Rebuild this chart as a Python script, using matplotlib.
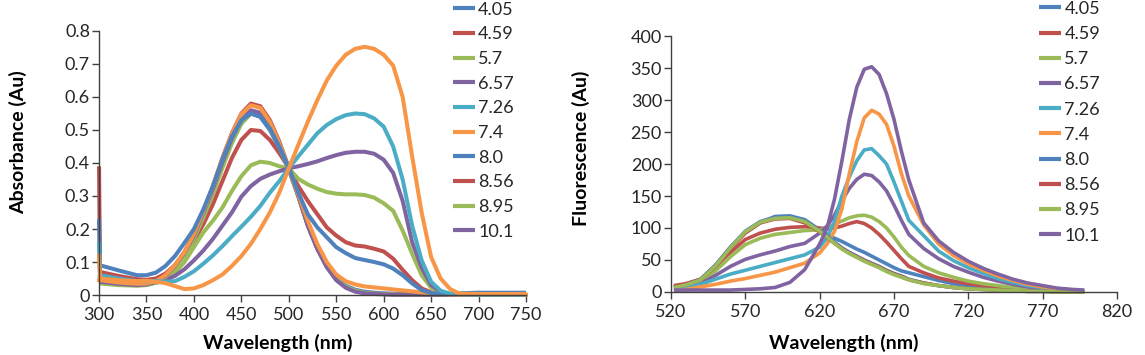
import matplotlib
matplotlib.use("Agg")
import matplotlib.pyplot as plt

plt.rcParams['font.family'] = ['Lato', 'DejaVu Sans']

# pH values used as legend labels
ph_labels = ['4.05', '4.59', '5.7', '6.57', '7.26', '7.4', '8.0', '8.56', '8.95', '10.1']
colors = ['#4F81BD', '#C0504D', '#9BBB59', '#8064A2', '#4BACC6', '#F79646',
          '#4F81BD', '#C0504D', '#9BBB59', '#8064A2']

# ---- absorbance ----
wl_abs = [300, 301, 320, 340, 350, 360, 370, 380, 390, 400, 410, 420, 430, 440, 450,
          460, 470, 480, 490, 500, 510, 520, 530, 540, 550, 560, 570, 580, 590, 600,
          610, 620, 630, 640, 650, 660, 670, 680, 700, 725, 750]

abs_405 = [0.23, 0.09, 0.075, 0.06, 0.06, 0.068, 0.088, 0.118, 0.158, 0.20, 0.26, 0.33, 0.41, 0.48, 0.53,
           0.55, 0.54, 0.505, 0.45, 0.385, 0.31, 0.245, 0.205, 0.175, 0.145, 0.127, 0.112, 0.106, 0.10, 0.093,
           0.08, 0.06, 0.035, 0.015, 0.006, 0.003, 0.003, 0.005, 0.007, 0.007, 0.007]
abs_459 = [0.39, 0.07, 0.058, 0.048, 0.046, 0.05, 0.065, 0.09, 0.125, 0.165, 0.215, 0.275, 0.345, 0.415, 0.47,
           0.50, 0.497, 0.47, 0.43, 0.385, 0.33, 0.285, 0.245, 0.205, 0.18, 0.16, 0.15, 0.147, 0.14, 0.132,
           0.11, 0.076, 0.045, 0.02, 0.008, 0.003, 0.002, 0.002, 0.002, 0.002, 0.002]
abs_57 = [0.06, 0.055, 0.045, 0.036, 0.036, 0.04, 0.05, 0.068, 0.1, 0.145, 0.19, 0.225, 0.265, 0.315, 0.36,
          0.393, 0.404, 0.40, 0.39, 0.384, 0.352, 0.335, 0.322, 0.312, 0.307, 0.305, 0.305, 0.303, 0.295, 0.278,
          0.255, 0.195, 0.125, 0.06, 0.022, 0.007, 0.003, 0.002, 0.001, 0.001, 0.001]
abs_657 = [0.05, 0.05, 0.04, 0.034, 0.034, 0.037, 0.045, 0.058, 0.078, 0.105, 0.135, 0.17, 0.21, 0.25, 0.298,
           0.33, 0.352, 0.365, 0.375, 0.384, 0.39, 0.397, 0.405, 0.415, 0.424, 0.431, 0.434, 0.434, 0.428, 0.41,
           0.37, 0.285, 0.16, 0.083, 0.03, 0.01, 0.003, 0.002, 0.001, 0.001, 0.001]
abs_726 = [0.16, 0.06, 0.05, 0.042, 0.042, 0.042, 0.04, 0.042, 0.055, 0.072, 0.095, 0.12, 0.148, 0.178, 0.207,
           0.237, 0.27, 0.31, 0.345, 0.384, 0.42, 0.455, 0.49, 0.515, 0.533, 0.545, 0.55, 0.548, 0.535, 0.51,
           0.45, 0.35, 0.21, 0.105, 0.04, 0.013, 0.004, 0.002, 0.001, 0.001, 0.001]
abs_74 = [0.125, 0.05, 0.045, 0.042, 0.043, 0.04, 0.036, 0.027, 0.018, 0.02, 0.03, 0.045, 0.062, 0.088, 0.118,
          0.155, 0.2, 0.25, 0.31, 0.384, 0.455, 0.525, 0.59, 0.65, 0.695, 0.728, 0.746, 0.752, 0.746, 0.728,
          0.695, 0.6, 0.42, 0.25, 0.115, 0.05, 0.018, 0.004, 0.003, 0.003, 0.003]
abs_80 = [0.045, 0.045, 0.038, 0.032, 0.033, 0.04, 0.058, 0.088, 0.128, 0.178, 0.245, 0.315, 0.395, 0.465, 0.52,
          0.55, 0.54, 0.5, 0.445, 0.38, 0.3, 0.215, 0.145, 0.09, 0.05, 0.028, 0.016, 0.01, 0.007, 0.005,
          0.004, 0.003, 0.002, 0.001, 0.001, 0.001, 0.001, 0.001, 0.001, 0.001, 0.001]
abs_856 = [0.04, 0.04, 0.033, 0.03, 0.032, 0.04, 0.06, 0.09, 0.13, 0.185, 0.255, 0.33, 0.415, 0.49, 0.55,
           0.58, 0.572, 0.53, 0.465, 0.385, 0.3, 0.21, 0.14, 0.085, 0.046, 0.024, 0.012, 0.006, 0.004, 0.003,
           0.002, 0.001, 0.001, 0.001, 0.001, 0.001, 0.001, 0.001, 0.001, 0.001, 0.001]
abs_895 = [0.035, 0.035, 0.03, 0.028, 0.03, 0.037, 0.055, 0.083, 0.12, 0.17, 0.235, 0.305, 0.385, 0.46, 0.52,
           0.55, 0.545, 0.505, 0.45, 0.38, 0.3, 0.215, 0.145, 0.088, 0.048, 0.025, 0.013, 0.007, 0.004, 0.003,
           0.002, 0.001, 0.001, 0.001, 0.001, 0.001, 0.001, 0.001, 0.001, 0.001, 0.001]
abs_101 = [0.04, 0.04, 0.034, 0.03, 0.032, 0.04, 0.058, 0.088, 0.128, 0.18, 0.25, 0.322, 0.402, 0.475, 0.53,
           0.56, 0.552, 0.512, 0.452, 0.384, 0.3, 0.21, 0.14, 0.085, 0.045, 0.022, 0.01, 0.005, 0.003, 0.002,
           0.001, 0.001, 0.001, 0.001, 0.001, 0.001, 0.001, 0.001, 0.001, 0.001, 0.001]
# extra orange trace visible in the chart but without a legend entry
abs_extra = [0.045, 0.045, 0.038, 0.034, 0.035, 0.042, 0.06, 0.09, 0.13, 0.185, 0.255, 0.33, 0.412, 0.488, 0.548,
             0.575, 0.567, 0.525, 0.46, 0.384, 0.305, 0.225, 0.155, 0.1, 0.062, 0.042, 0.032, 0.026, 0.023, 0.02,
             0.017, 0.014, 0.011, 0.008, 0.005, 0.003, 0.002, 0.001, 0.001, 0.001, 0.001]

abs_series = [abs_405, abs_459, abs_57, abs_657, abs_726, abs_74, abs_80, abs_856, abs_895, abs_101]
# drawing order tweak so the stacked start-up spikes at 300 nm show like the original
abs_z = [2.1, 2.0, 2.0, 2.0, 2.2, 2.3, 2.0, 2.0, 2.0, 2.0]

# ---- fluorescence ----
wl_fl = [522, 530, 540, 550, 560, 570, 580, 590, 600, 610, 620, 625, 630, 635, 640, 645, 650, 655,
         660, 665, 670, 675, 680, 690, 700, 710, 720, 730, 740, 750, 760, 770, 780, 790, 798]

fl_405 = [8, 12, 20, 42, 70, 93, 108, 118, 119, 113, 97, 90, 84, 79, 73, 67, 62, 56,
          50, 44, 38, 33, 30, 24, 18, 13, 10, 7, 5, 4, 3, 2, 1, 1, 0]
fl_459 = [10, 13, 20, 40, 62, 82, 92, 98, 101, 102, 100, 99, 100, 103, 107, 110, 107, 100,
          90, 78, 65, 52, 40, 30, 22, 17, 13, 10, 7, 5, 3, 2, 1, 1, 0]
fl_57 = [6, 9, 16, 33, 55, 74, 84, 90, 93, 96, 97, 100, 106, 111, 116, 119, 120, 117,
         110, 100, 86, 70, 57, 40, 30, 23, 17, 13, 10, 7, 5, 3, 2, 1, 1]
fl_657 = [4, 7, 13, 26, 40, 51, 58, 64, 71, 76, 92, 103, 120, 143, 162, 176, 184, 182,
          172, 158, 136, 112, 90, 68, 52, 40, 31, 23, 17, 12, 8, 5, 3, 2, 1]
fl_726 = [4, 6, 12, 20, 28, 34, 40, 46, 52, 58, 70, 85, 110, 150, 180, 205, 222, 224,
          213, 200, 172, 142, 112, 88, 64, 49, 38, 29, 21, 15, 10, 7, 4, 3, 2]
fl_74 = [2, 4, 8, 12, 17, 21, 26, 31, 38, 45, 61, 75, 95, 130, 185, 235, 272, 284,
         278, 262, 228, 185, 150, 105, 75, 57, 44, 34, 25, 18, 12, 8, 5, 3, 2]
fl_80 = [7, 11, 20, 42, 70, 95, 110, 117, 117, 110, 96, 88, 78, 69, 62, 56, 50, 45,
         40, 34, 29, 25, 20, 14, 10, 7, 5, 4, 3, 2, 1, 1, 0, 0, 0]
fl_856 = [8, 12, 19, 40, 68, 92, 108, 114, 115, 108, 94, 85, 76, 68, 61, 55, 49, 44,
          39, 33, 28, 24, 19, 14, 10, 7, 5, 4, 3, 2, 1, 1, 0, 0, 0]
fl_895 = [7, 11, 19, 41, 69, 94, 109, 115, 116, 110, 95, 86, 76, 67, 60, 54, 48, 43,
          38, 32, 27, 23, 19, 13, 10, 7, 5, 4, 3, 2, 1, 1, 0, 0, 0]
fl_101 = [3, 3, 3, 3, 3, 4, 5, 7, 15, 35, 75, 100, 145, 205, 270, 320, 348, 352,
          340, 310, 270, 220, 175, 108, 80, 62, 48, 37, 28, 20, 14, 10, 6, 4, 3]

fl_series = [fl_405, fl_459, fl_57, fl_657, fl_726, fl_74, fl_80, fl_856, fl_895, fl_101]

text_col = '#262626'
axis_col = '#404040'
fs = 13
fs_lab = 14

fig = plt.figure(figsize=(11.45, 3.55), dpi=100)
ax1 = fig.add_axes([0.0865, 0.169, 0.3729, 0.7437])
ax2 = fig.add_axes([0.586, 0.1775, 0.3895, 0.721])

for ys, c, lab, z in zip(abs_series, colors, ph_labels, abs_z):
    ax1.plot(wl_abs, ys, color=c, lw=2.9, label=lab, zorder=z, solid_capstyle='butt')
ax1.plot(wl_abs, abs_extra, color='#F79646', lw=2.9, label='_nolegend_')

for ys, c, lab in zip(fl_series, colors, ph_labels):
    ax2.plot(wl_fl, ys, color=c, lw=2.6, label=lab, solid_capstyle='butt')

ax1.set_xlim(300, 750)
ax1.set_ylim(0, 0.8)
ax1.set_xticks(range(300, 751, 50))
ax1.set_yticks([0, 0.1, 0.2, 0.3, 0.4, 0.5, 0.6, 0.7, 0.8])
ax1.set_yticklabels(['0', '0.1', '0.2', '0.3', '0.4', '0.5', '0.6', '0.7', '0.8'])

ax2.set_xlim(520, 820)
ax2.set_ylim(0, 400)
ax2.set_xticks(range(520, 821, 50))
ax2.set_yticks(range(0, 401, 50))

for ax in (ax1, ax2):
    for s in ('top', 'right'):
        ax.spines[s].set_visible(False)
    for s in ('left', 'bottom'):
        ax.spines[s].set_color(axis_col)
        ax.spines[s].set_linewidth(1.0)
    ax.tick_params(direction='out', length=5, width=1.0, color=axis_col,
                   labelsize=fs, labelcolor=text_col)
    ax.tick_params(axis='x', pad=3.5)
    ax.tick_params(axis='y', pad=1.5)
    for ln in ax.get_lines():
        ln.set_clip_on(False)

leg1 = ax1.legend(loc='center left', bbox_to_anchor=(0.3956, 0.660), bbox_transform=fig.transFigure,
                  frameon=False, fontsize=fs, handlelength=1.2, handletextpad=0.2,
                  labelspacing=0.48, borderpad=0, borderaxespad=0)
leg2 = ax2.legend(loc='center left', bbox_to_anchor=(0.9074, 0.656), bbox_transform=fig.transFigure,
                  frameon=False, fontsize=fs, handlelength=1.2, handletextpad=0.2,
                  labelspacing=0.51, borderpad=0, borderaxespad=0)
for leg in (leg1, leg2):
    for t in leg.get_texts():
        t.set_color(text_col)
    for h in leg.get_lines():
        h.set_linewidth(3.0)

fig.text(18 / 1145, 1 - 142 / 355, 'Absorbance (Au)', rotation=90, ha='center', va='center',
         fontsize=fs_lab, fontweight='bold', color='black')
fig.text(581 / 1145, 1 - 148 / 355, 'Fluorescence (Au)', rotation=90, ha='center', va='center',
         fontsize=fs_lab, fontweight='bold', color='black')
fig.text(278 / 1145, 1 - 343 / 355, 'Wavelength (nm)', ha='center', va='center',
         fontsize=fs_lab, fontweight='bold', color='black')
fig.text(844 / 1145, 1 - 343 / 355, 'Wavelength (nm)', ha='center', va='center',
         fontsize=fs_lab, fontweight='bold', color='black')

fig.savefig('out.png', dpi=100)
